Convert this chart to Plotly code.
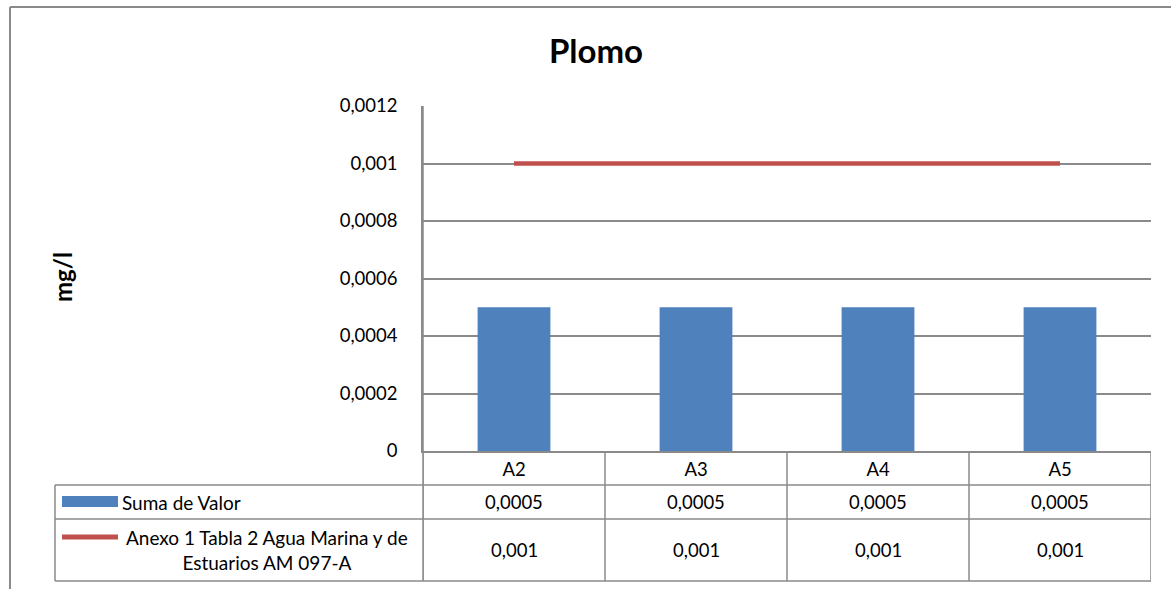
import plotly.graph_objects as go

categories = ["A2", "A3", "A4", "A5"]
suma_valor = [0.0005, 0.0005, 0.0005, 0.0005]
limite = [0.001, 0.001, 0.001, 0.001]
y_ticks = [0, 0.0002, 0.0004, 0.0006, 0.0008, 0.001, 0.0012]
series_names = ["Suma de Valor", "Anexo 1 Tabla 2 Agua Marina y de<br>Estuarios AM 097-A"]
title_text = "Plomo"
y_title = "mg/l"

W, H = 1171, 589
FONT = "Lato"
GRID = "#8a8a8a"
BLUE = "#4F81BD"
RED = "#C0504D"
TXT = "#000000"


def px(x):
    return x / W


def py(y):
    return 1 - y / H


def fmt(v):
    s = ("%.4f" % v).rstrip("0").rstrip(".")
    return s.replace(".", ",")


fig = go.Figure()
fig.add_trace(go.Bar(x=categories, y=suma_valor, marker=dict(color=BLUE, line=dict(width=0)),
                     width=0.4, name="Suma de Valor", showlegend=False))
fig.add_trace(go.Scatter(x=categories, y=limite, mode="lines", line=dict(color=RED, width=4.5),
                         name="Anexo", showlegend=False))

plot_l, plot_r = 423, 1151
plot_t, plot_b = 106, 451
row1, row2, row3 = 485, 519, 581
tab_l = 55

shapes = []
lc = dict(color=GRID, width=1.5)
for r in (row1, row2, row3):
    shapes.append(dict(type="line", xref="paper", yref="paper", x0=px(tab_l), x1=px(plot_r),
                       y0=py(r), y1=py(r), line=lc))
shapes.append(dict(type="line", xref="paper", yref="paper", x0=px(tab_l), x1=px(tab_l),
                   y0=py(row1), y1=py(row3), line=lc))
for i in range(len(categories) + 1):
    xv = i - 0.5
    shapes.append(dict(type="line", xref="x", yref="paper", x0=xv, x1=xv,
                       y0=py(plot_b), y1=py(row3), line=lc))
shapes.append(dict(type="line", xref="paper", yref="paper", x0=px(plot_l), x1=px(plot_l),
                   y0=py(plot_t), y1=py(row3), line=lc))
# chart border
shapes.append(dict(type="line", xref="paper", yref="paper", x0=px(10), x1=1.0,
                   y0=py(7), y1=py(7), line=dict(color=GRID, width=2)))
shapes.append(dict(type="line", xref="paper", yref="paper", x0=px(10), x1=px(10),
                   y0=py(7), y1=0, line=dict(color=GRID, width=2)))
# legend keys
shapes.append(dict(type="rect", xref="paper", yref="paper", x0=px(62), x1=px(118),
                   y0=py(507), y1=py(496), fillcolor=BLUE, line=dict(width=0)))
shapes.append(dict(type="line", xref="paper", yref="paper", x0=px(62), x1=px(118),
                   y0=py(537), y1=py(537), line=dict(color=RED, width=5)))

annotations = []
tfont = dict(family=FONT, size=18.5, color=TXT)
lfont = dict(family=FONT, size=19, color=TXT)
for c, v1, v2 in zip(categories, suma_valor, limite):
    annotations.append(dict(x=c, y=py((row1 + row2) / 2), xref="x", yref="paper", text=fmt(v1),
                            showarrow=False, font=tfont, xanchor="center", yanchor="middle"))
    annotations.append(dict(x=c, y=py((row2 + row3) / 2), xref="x", yref="paper", text=fmt(v2),
                            showarrow=False, font=tfont, xanchor="center", yanchor="middle"))
annotations.append(dict(x=px(120), y=py((row1 + row2) / 2), xref="paper", yref="paper",
                        text=series_names[0], showarrow=False, font=lfont,
                        xanchor="left", yanchor="middle"))
annotations.append(dict(x=px(267), y=py((row2 + row3) / 2), xref="paper", yref="paper",
                        text=series_names[1], showarrow=False, font=lfont, align="center",
                        xanchor="center", yanchor="middle"))
annotations.append(dict(x=px(62), y=py(277), xref="paper", yref="paper", text="<b>" + y_title + "</b>",
                        textangle=-90, showarrow=False, font=dict(family=FONT, size=24, color=TXT),
                        xanchor="center", yanchor="middle"))

fig.update_layout(
    width=W, height=H,
    margin=dict(l=0, r=0, t=0, b=0, pad=0, autoexpand=False),
    paper_bgcolor="white", plot_bgcolor="white",
    title=dict(text="<b>" + title_text + "</b>", x=px(596), y=py(51), xanchor="center",
               yanchor="middle", xref="paper", yref="paper", automargin=False,
               font=dict(family=FONT, size=33, color=TXT)),
    xaxis=dict(domain=[px(plot_l), px(plot_r)], range=[-0.5, 3.5], type="category",
               showgrid=False, showline=True, linecolor=GRID, linewidth=1.5, automargin=False,
               tickfont=tfont, ticks="", ticklabelstandoff=1, zeroline=False),
    yaxis=dict(domain=[py(plot_b), py(plot_t)], range=[0, 0.0012],
               tickvals=y_ticks, ticktext=[fmt(v) for v in y_ticks], automargin=False,
               showgrid=True, gridcolor=GRID, gridwidth=1.5, showline=True,
               linecolor=GRID, linewidth=1.5, ticks="", tickfont=tfont,
               ticklabelstandoff=20, zeroline=False),
    shapes=shapes, annotations=annotations, bargap=0.6,
)

fig.write_html("out.html", config={"displayModeBar": False},
               post_script="document.body.style.margin='0';document.body.style.overflow='hidden';")
